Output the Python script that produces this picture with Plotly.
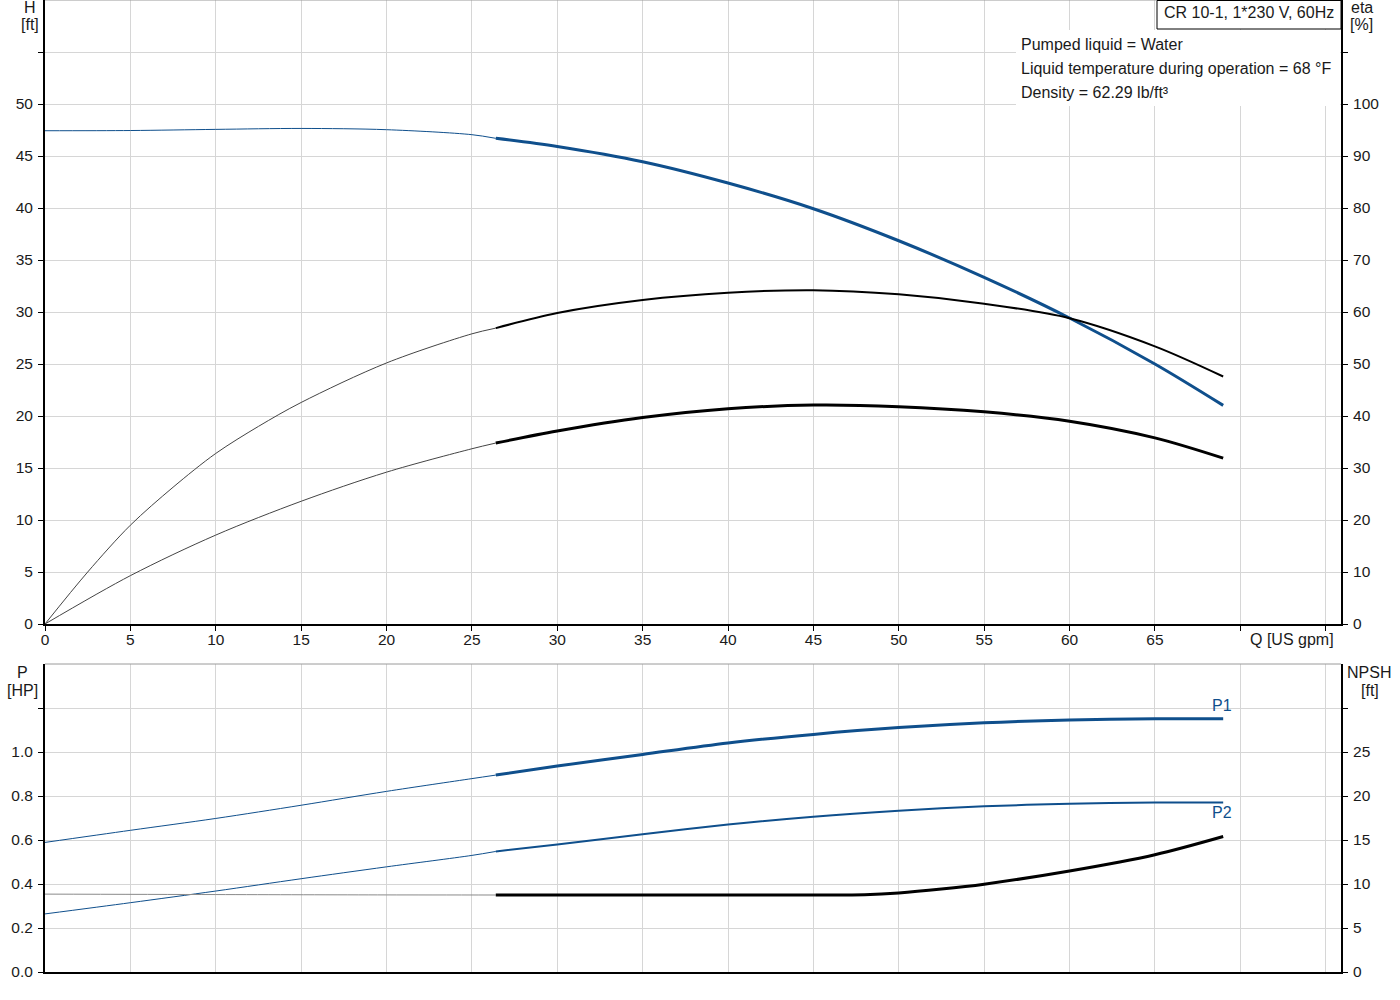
import plotly.graph_objects as go

# ---------------- data ----------------
BLUE = "#0F4F8C"

# Head H [ft]
q_h_thin = [0, 5, 10, 15, 20, 25, 26.4]
h_thin = [47.43, 47.45, 47.56, 47.65, 47.53, 47.05, 46.7]
q_h_thick = [26.4, 30, 35, 40, 45, 50, 55, 60, 65, 69]
h_thick = [46.7, 45.92, 44.45, 42.4, 39.93, 36.85, 33.33, 29.42, 25.0, 21.02]

# Pump efficiency eta [%]
q_eta_thin = [0, 2.5, 5, 7.5, 10, 12.5, 15, 20, 25, 26.4]
eta_thin = [0, 10.0, 19.0, 26.3, 32.8, 38.0, 42.6, 50.2, 55.8, 56.9]
q_eta_thick = [26.4, 30, 35, 40, 45, 50, 55, 60, 65, 69]
eta_thick = [56.9, 59.8, 62.3, 63.7, 64.2, 63.4, 61.6, 58.8, 53.4, 47.6]

# Total efficiency eta [%]
q_etat_thin = [0, 5, 10, 15, 20, 25, 26.4]
etat_thin = [0, 9.3, 17.1, 23.6, 29.2, 33.7, 34.8]
q_etat_thick = [26.4, 30, 35, 40, 45, 50, 55, 60, 65, 69]
etat_thick = [34.8, 37.1, 39.7, 41.4, 42.1, 41.8, 40.8, 39.0, 35.8, 31.9]

# Power P1 / P2 [HP]
q_p_thin = [0, 5, 10, 15, 20, 25, 26.4]
p1_thin = [0.589, 0.644, 0.698, 0.758, 0.821, 0.879, 0.895]
p2_thin = [0.264, 0.315, 0.368, 0.424, 0.478, 0.530, 0.548]
q_p_thick = [26.4, 30, 35, 40, 45, 50, 55, 60, 65, 69]
p1_thick = [0.895, 0.936, 0.989, 1.041, 1.080, 1.111, 1.133, 1.146, 1.151, 1.151]
p2_thick = [0.548, 0.580, 0.626, 0.670, 0.706, 0.733, 0.753, 0.765, 0.770, 0.770]

# NPSH [ft]
q_n_thin = [0, 10, 20, 26.4]
npsh_thin = [8.85, 8.8, 8.76, 8.75]
q_n_thick = [26.4, 35, 45, 48, 50, 52.5, 55, 60, 65, 69]
npsh_thick = [8.75, 8.75, 8.76, 8.79, 8.98, 9.42, 9.98, 11.48, 13.33, 15.4]

# ticks
q_ticks = [0, 5, 10, 15, 20, 25, 30, 35, 40, 45, 50, 55, 60, 65, 70, 75]
q_labels = ["0", "5", "10", "15", "20", "25", "30", "35", "40", "45", "50", "55", "60", "65", "", ""]
h_ticks = [0, 5, 10, 15, 20, 25, 30, 35, 40, 45, 50, 55]
h_labels = ["0", "5", "10", "15", "20", "25", "30", "35", "40", "45", "50", ""]
eta_ticks = [0, 10, 20, 30, 40, 50, 60, 70, 80, 90, 100, 110]
eta_labels = ["0", "10", "20", "30", "40", "50", "60", "70", "80", "90", "100", ""]
p_ticks = [0, 0.2, 0.4, 0.6, 0.8, 1.0, 1.2]
p_labels = ["0.0", "0.2", "0.4", "0.6", "0.8", "1.0", ""]
n_ticks = [0, 5, 10, 15, 20, 25, 30]
n_labels = ["0", "5", "10", "15", "20", "25", ""]

# ---------------- figure ----------------
FONT = "Liberation Sans, Arial, sans-serif"
TXT = "#1a1a1a"
GRID = "rgb(214,214,214)"

fig = go.Figure()

def add(x, y, xa, ya, color, width):
    fig.add_trace(go.Scatter(x=x, y=y, xaxis=xa, yaxis=ya, mode="lines",
                             line=dict(color=color, width=width, shape="spline", smoothing=0.9),
                             showlegend=False, hoverinfo="skip"))

add(q_h_thin, h_thin, "x", "y", BLUE, 1)
add(q_h_thick, h_thick, "x", "y", BLUE, 3)
add(q_eta_thin, eta_thin, "x", "y2", "#444444", 1)
add(q_eta_thick, eta_thick, "x", "y2", "black", 2)
add(q_etat_thin, etat_thin, "x", "y2", "#444444", 1)
add(q_etat_thick, etat_thick, "x", "y2", "black", 3)

add(q_p_thin, p1_thin, "x2", "y3", BLUE, 1)
add(q_p_thick, p1_thick, "x2", "y3", BLUE, 3)
add(q_p_thin, p2_thin, "x2", "y3", BLUE, 1)
add(q_p_thick, p2_thick, "x2", "y3", BLUE, 2)
add(q_n_thin, npsh_thin, "x2", "y4", "#8a8a8a", 1)
add(q_n_thick, npsh_thick, "x2", "y4", "black", 3)

tickfont = dict(family=FONT, size=15.5, color=TXT)
common_x = dict(range=[0, 75.9], tickmode="array", tickvals=q_ticks,
                showgrid=True, gridcolor=GRID, gridwidth=1, zeroline=False,
                showline=True, linecolor="black", linewidth=2,
                tickcolor="black", ticklen=5, tickfont=tickfont)
common_y = dict(showgrid=True, gridcolor=GRID, gridwidth=1, zeroline=False,
                showline=True, linecolor="black", linewidth=2, tickmode="array",
                ticks="outside", tickcolor="black", ticklen=5, tickfont=tickfont,
                ticklabelstandoff=2)

TOP0 = (972 - 624) / 972
LOW1 = (972 - 664) / 972

fig.update_layout(
    width=1400, height=1000,
    margin=dict(l=45, r=59, t=0, b=28),
    paper_bgcolor="white", plot_bgcolor="white",
    font=dict(family=FONT, size=16, color=TXT),
    xaxis=dict(common_x, domain=[0, 1], anchor="y", ticktext=q_labels, ticks="outside",
               ticklabelstandoff=-5),
    yaxis=dict(common_y, domain=[TOP0, 1], range=[0, 60], tickvals=h_ticks, ticktext=h_labels),
    yaxis2=dict(common_y, overlaying="y", side="right", range=[0, 120],
                tickvals=eta_ticks, ticktext=eta_labels, showgrid=False, anchor="x"),
    xaxis2=dict(common_x, domain=[0, 1], anchor="y3", ticks="", showticklabels=False),
    yaxis3=dict(common_y, domain=[0, LOW1], range=[0, 1.4], tickvals=p_ticks, ticktext=p_labels),
    yaxis4=dict(common_y, overlaying="y3", side="right", range=[0, 35],
                tickvals=n_ticks, ticktext=n_labels, showgrid=False, anchor="x2"),
)

def px2paper(px, py):
    return (px - 45) / 1296, (972 - py) / 972

shapes = []
# top frame lines (gray)
shapes.append(dict(type="line", xref="x domain", yref="y domain", x0=0, x1=1, y0=1, y1=1,
                   line=dict(color="#9a9a9a", width=1), layer="above"))
shapes.append(dict(type="line", xref="x2 domain", yref="y3 domain", x0=0, x1=1, y0=1, y1=1,
                   line=dict(color="#9a9a9a", width=1), layer="above"))
# white box behind info text
x0, y1 = px2paper(1016, 30)
x1, y0 = px2paper(1340, 106)
shapes.append(dict(type="rect", xref="paper", yref="paper", x0=x0, x1=x1, y0=y0, y1=y1,
                   fillcolor="white", line=dict(width=0), layer="above"))
# title box
x0, y1 = px2paper(1157, 0.5)
x1, y0 = px2paper(1341, 29)
shapes.append(dict(type="rect", xref="paper", yref="paper", x0=x0, x1=x1, y0=y0, y1=y1,
                   fillcolor="white", line=dict(color="black", width=1), layer="above"))
fig.update_layout(shapes=shapes)

def ann(text, px, py, xanchor="center", color=TXT, size=16):
    x, y = px2paper(px, py)
    fig.add_annotation(text=text, x=x, y=y, xref="paper", yref="paper",
                       xanchor=xanchor, yanchor="middle", showarrow=False, borderpad=0,
                       font=dict(family=FONT, size=size, color=color))

ann("CR 10-1, 1*230 V, 60Hz", 1249, 12)
ann("Pumped liquid = Water", 1020, 44, xanchor="left")
ann("Liquid temperature during operation = 68 °F", 1020, 68, xanchor="left")
ann("Density = 62.29 lb/ft³", 1020, 92, xanchor="left")
ann("Q [US gpm]", 1292, 639)
ann("H", 30, 8)
ann("[ft]", 30, 25)
ann("eta", 1362, 8)
ann("[%]", 1361, 25)
ann("P", 22, 672)
ann("[HP]", 22, 690)
ann("NPSH", 1369, 672)
ann("[ft]", 1370, 690)
ann("P1", 1222, 705, color=BLUE)
ann("P2", 1222, 813, color=BLUE)

fig.write_html("out.html", config={"displayModeBar": False},
               post_script="document.body.style.margin='0px';document.body.style.padding='0px';")
